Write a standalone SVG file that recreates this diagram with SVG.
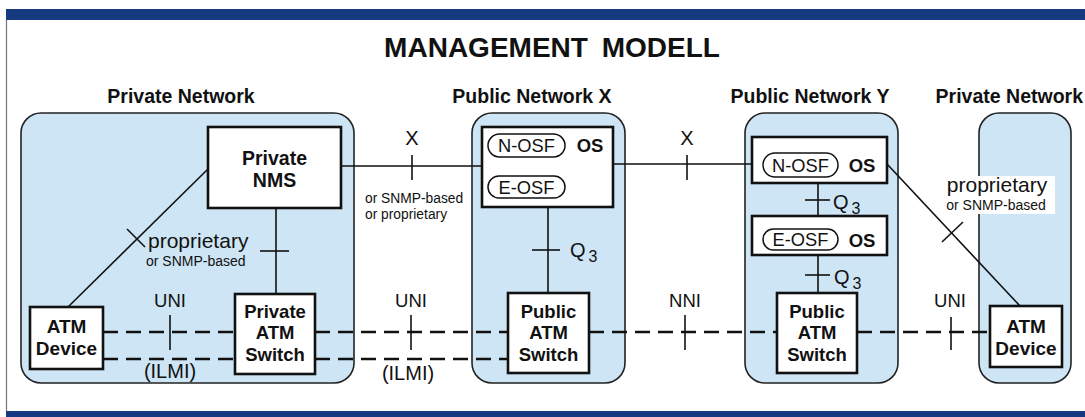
<svg xmlns="http://www.w3.org/2000/svg" width="1085" height="417" viewBox="0 0 1085 417">
<style>
.net{fill:#cde5f5;stroke:#222;stroke-width:1.6}
.box{fill:#fff;stroke:#111;stroke-width:2.6}
.pill{fill:#fff;stroke:#111;stroke-width:1.5}
.ln{stroke:#111;stroke-width:1.6;fill:none}
.dash{stroke:#111;stroke-width:2.4;fill:none;stroke-dasharray:15 8}
.b{font-family:"Liberation Sans",Arial,sans-serif;font-weight:bold;fill:#111}
.r{font-family:"Liberation Sans",Arial,sans-serif;fill:#111}
</style>
<rect x="0" y="0" width="1085" height="417" fill="#fff"/>
<rect x="6" y="9" width="1079" height="11" fill="#163a80"/>
<rect x="6" y="411" width="1079" height="6" fill="#163a80"/>
<line x1="6.5" y1="20" x2="6.5" y2="411" stroke="#777" stroke-width="1.2"/>
<text class="b" x="552" y="57" font-size="28" text-anchor="middle" word-spacing="6">MANAGEMENT MODELL</text>
<text class="b" x="181" y="103" font-size="19.5" text-anchor="middle">Private Network</text>
<text class="b" x="532" y="103" font-size="19.5" text-anchor="middle">Public Network X</text>
<text class="b" x="810" y="103" font-size="19.5" text-anchor="middle">Public Network Y</text>
<text class="b" x="1083" y="103" font-size="19.5" text-anchor="end">Private Network</text>

<g id="private-network"><rect class="net" x="21" y="113" width="333" height="270" rx="20"/></g>
<g id="public-network-x"><rect class="net" x="472" y="113" width="153" height="270" rx="20"/></g>
<g id="public-network-y"><rect class="net" x="745" y="113" width="153" height="270" rx="20"/></g>
<g id="private-network-2"><rect class="net" x="979" y="113" width="92" height="270" rx="20"/></g>

<g id="connectors">
<line class="ln" x1="341" y1="166" x2="482" y2="166"/>
<line class="ln" x1="412" y1="155" x2="412" y2="180"/>
<line class="ln" x1="613" y1="164" x2="752" y2="164"/>
<line class="ln" x1="687" y1="155" x2="687" y2="180"/>
<line class="ln" x1="208" y1="169" x2="68" y2="307"/>
<line class="ln" x1="127" y1="229" x2="145" y2="247"/>
<line class="ln" x1="276" y1="208" x2="276" y2="294"/>
<line class="ln" x1="260" y1="251" x2="289" y2="251"/>
<line class="ln" x1="548" y1="207" x2="548" y2="293"/>
<line class="ln" x1="532" y1="250" x2="560" y2="250"/>
<line class="ln" x1="818" y1="183" x2="818" y2="216"/>
<line class="ln" x1="805" y1="200" x2="830" y2="200"/>
<line class="ln" x1="818" y1="255" x2="818" y2="293"/>
<line class="ln" x1="805" y1="275" x2="830" y2="275"/>
<line class="ln" x1="887" y1="164" x2="1020" y2="306"/>
<line class="ln" x1="942" y1="242" x2="963" y2="222"/>
<line class="dash" x1="103" y1="332" x2="235" y2="332"/>
<line class="dash" x1="103" y1="359" x2="235" y2="359"/>
<line class="dash" x1="315" y1="332" x2="508" y2="332"/>
<line class="dash" x1="315" y1="359" x2="508" y2="359"/>
<line class="dash" x1="589" y1="332" x2="777" y2="332"/>
<line class="dash" x1="857" y1="332" x2="990" y2="332"/>
<line class="ln" x1="170" y1="315" x2="170" y2="350"/>
<line class="ln" x1="411" y1="315" x2="411" y2="350"/>
<line class="ln" x1="685" y1="315" x2="685" y2="350"/>
<line class="ln" x1="951" y1="317" x2="951" y2="350"/>
</g>

<text class="r" x="412" y="145" font-size="20" text-anchor="middle">X</text>
<text class="r" x="687" y="145" font-size="20" text-anchor="middle">X</text>
<text class="r" x="365" y="203" font-size="13.8">or SNMP-based</text>
<text class="r" x="365" y="219" font-size="13.8">or proprietary</text>
<text class="r" x="148" y="248" font-size="21">proprietary</text>
<text class="r" x="146" y="266" font-size="14">or SNMP-based</text>
<rect x="938" y="176" width="117" height="38" fill="#fff"/>
<text class="r" x="997" y="192" font-size="21" text-anchor="middle">proprietary</text>
<text class="r" x="996" y="210" font-size="14" text-anchor="middle">or SNMP-based</text>
<text class="r" x="570" y="257" font-size="20">Q<tspan font-size="16" dx="3" dy="5">3</tspan></text>
<text class="r" x="833" y="209" font-size="20">Q<tspan font-size="16" dx="3" dy="5">3</tspan></text>
<text class="r" x="834" y="284" font-size="20">Q<tspan font-size="16" dx="3" dy="5">3</tspan></text>
<text class="r" x="170" y="307" font-size="18.5" text-anchor="middle">UNI</text>
<text class="r" x="411" y="307" font-size="18.5" text-anchor="middle">UNI</text>
<text class="r" x="685" y="307" font-size="18.5" text-anchor="middle">NNI</text>
<text class="r" x="950" y="307" font-size="18.5" text-anchor="middle">UNI</text>
<text class="r" x="170" y="378" font-size="20" text-anchor="middle">(ILMI)</text>
<text class="r" x="408" y="380" font-size="20" text-anchor="middle">(ILMI)</text>

<g id="private-nms">
<rect class="box" x="208" y="127" width="133" height="81" stroke-width="3"/>
<text class="b" x="274.5" y="165" font-size="19.5" text-anchor="middle">Private</text>
<text class="b" x="274.5" y="187" font-size="19.5" text-anchor="middle">NMS</text>
</g>
<g id="os-x">
<rect class="box" x="482" y="127" width="131" height="80" stroke-width="3"/>
<rect class="pill" x="488" y="134" width="77" height="23" rx="11.5"/>
<text class="r" x="526.5" y="152" font-size="18.3" text-anchor="middle">N-OSF</text>
<text class="b" x="590" y="152" font-size="18.5" text-anchor="middle">OS</text>
<rect class="pill" x="488" y="176" width="77" height="22" rx="11"/>
<text class="r" x="526.5" y="193.5" font-size="18.3" text-anchor="middle">E-OSF</text>
</g>
<g id="os-y-n">
<rect class="box" x="752" y="137" width="135" height="46" stroke-width="3"/>
<rect class="pill" x="763" y="153" width="75" height="24" rx="12"/>
<text class="r" x="800.5" y="171.5" font-size="18.3" text-anchor="middle">N-OSF</text>
<text class="b" x="862" y="172" font-size="18.5" text-anchor="middle">OS</text>
</g>
<g id="os-y-e">
<rect class="box" x="752" y="216" width="135" height="39" stroke-width="3"/>
<rect class="pill" x="763" y="229" width="75" height="21" rx="10.5"/>
<text class="r" x="800.5" y="246" font-size="18.3" text-anchor="middle">E-OSF</text>
<text class="b" x="862" y="247" font-size="18.5" text-anchor="middle">OS</text>
</g>
<g id="atm-device-left">
<rect class="box" x="30" y="307" width="73" height="62"/>
<text class="b" x="66.5" y="333" font-size="19" text-anchor="middle">ATM</text>
<text class="b" x="66.5" y="355" font-size="19" text-anchor="middle">Device</text>
</g>
<g id="private-atm-switch">
<rect class="box" x="235" y="294" width="80" height="80"/>
<text class="b" x="275" y="318" font-size="18.5" text-anchor="middle">Private</text>
<text class="b" x="275" y="339" font-size="18.5" text-anchor="middle">ATM</text>
<text class="b" x="275" y="361" font-size="18.5" text-anchor="middle">Switch</text>
</g>
<g id="public-atm-switch-x">
<rect class="box" x="508" y="293" width="81" height="80"/>
<text class="b" x="548.5" y="318" font-size="18.5" text-anchor="middle">Public</text>
<text class="b" x="548.5" y="339" font-size="18.5" text-anchor="middle">ATM</text>
<text class="b" x="548.5" y="361" font-size="18.5" text-anchor="middle">Switch</text>
</g>
<g id="public-atm-switch-y">
<rect class="box" x="777" y="293" width="80" height="80"/>
<text class="b" x="817" y="318" font-size="18.5" text-anchor="middle">Public</text>
<text class="b" x="817" y="339" font-size="18.5" text-anchor="middle">ATM</text>
<text class="b" x="817" y="361" font-size="18.5" text-anchor="middle">Switch</text>
</g>
<g id="atm-device-right">
<rect class="box" x="990" y="306" width="72" height="61"/>
<text class="b" x="1026" y="333" font-size="19" text-anchor="middle">ATM</text>
<text class="b" x="1026" y="355" font-size="19" text-anchor="middle">Device</text>
</g>
</svg>
